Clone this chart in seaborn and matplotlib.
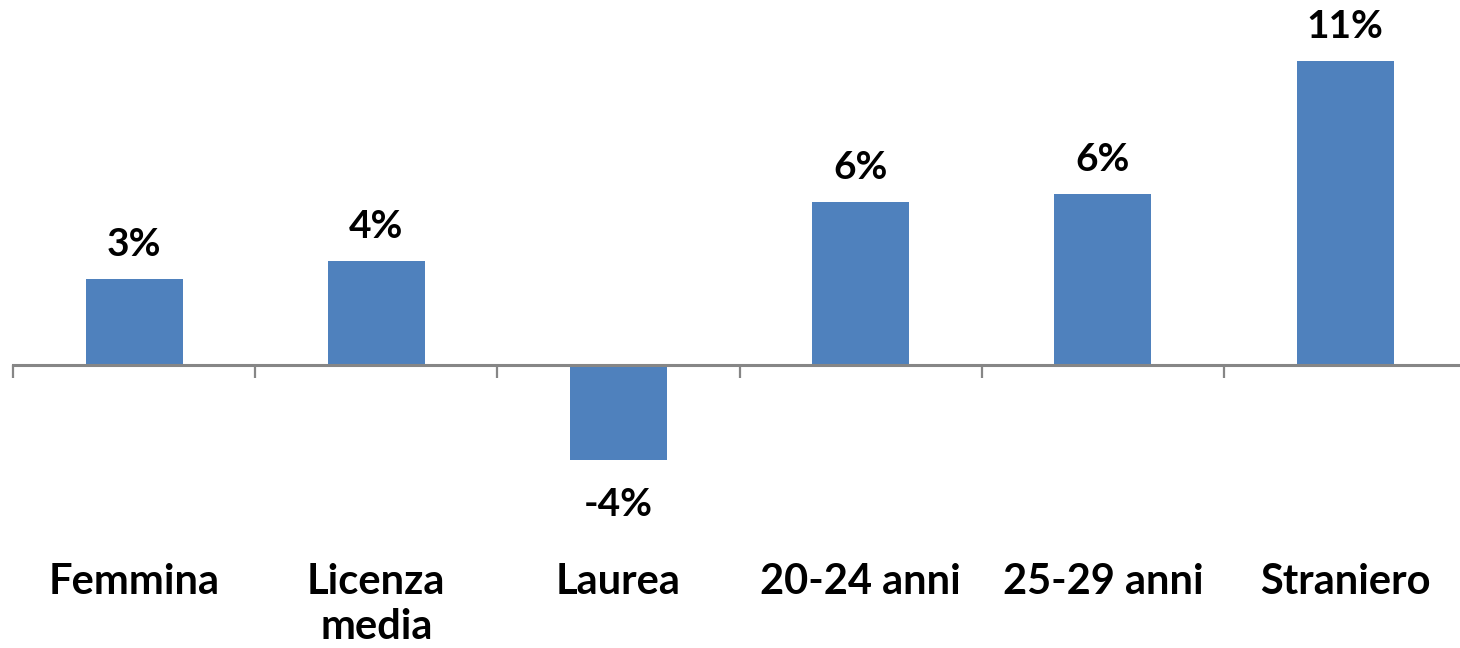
import matplotlib
matplotlib.use("Agg")
import matplotlib.pyplot as plt
import seaborn as sns
import pandas as pd
import numpy as np
from matplotlib.ticker import FixedLocator

categories = ["Femmina", "Licenza\nmedia", "Laurea", "20-24 anni", "25-29 anni", "Straniero"]
values = [3.2, 3.9, -3.6, 6.1, 6.4, 11.4]

sns.set_theme(style="white")
plt.rcParams['font.family'] = ['Lato', 'DejaVu Sans']

W, H, DPI = 1460, 648, 100
fig = plt.figure(figsize=(W / DPI, H / DPI), dpi=DPI)
zero_px = 364.5
scale = 26.6  # px per percent
left_px, right_px = 13, 13 + 6 * 242.2
ax = fig.add_axes([left_px / W, 0, (right_px - left_px) / W, 1])

df = pd.DataFrame({"cat": categories, "val": values})
sns.barplot(data=df, x="cat", y="val", color="#4F81BD", width=0.4, saturation=1,
            ax=ax, edgecolor="none")

ax.set_xlim(-0.5, 5.5)
ax.set_ylim(-(H - zero_px) / scale, zero_px / scale)

for s in ["top", "right", "left"]:
    ax.spines[s].set_visible(False)
ax.set_yticks([])
ax.set_xlabel("")
ax.set_ylabel("")

# category boundaries as tick marks hanging below the zero line
ax.spines["bottom"].set_position(("data", 0))
ax.spines["bottom"].set_visible(True)
ax.spines["bottom"].set_color("#868686")
ax.spines["bottom"].set_linewidth(2.2)
ax.xaxis.set_minor_locator(FixedLocator(np.arange(-0.5, 6.0, 1.0)))
ax.tick_params(axis="x", which="minor", length=9.5, width=1.6, color="#868686", direction="out", bottom=True)
ax.tick_params(axis="x", which="major", length=0, pad=0)
ax.set_xticks(range(len(categories)))
ax.set_xticklabels([])

for i, (c, v) in enumerate(zip(categories, values)):
    ax.annotate(c, xy=(i, 0), xytext=(0, -(563 - zero_px) * 0.72), textcoords="offset points",
                ha="center", va="top", fontsize=30, fontweight="bold", color="black",
                linespacing=1.22)
    lab = f"{int(round(v))}%"
    if v >= 0:
        ax.annotate(lab, xy=(i, v), xytext=(0, 23 * 0.72), textcoords="offset points",
                    ha="center", va="baseline", fontsize=28, fontweight="bold", color="black")
    else:
        ax.annotate(lab, xy=(i, v), xytext=(0, -27 * 0.72), textcoords="offset points",
                    ha="center", va="top", fontsize=28, fontweight="bold", color="black")

fig.savefig("out.png", dpi=DPI)
